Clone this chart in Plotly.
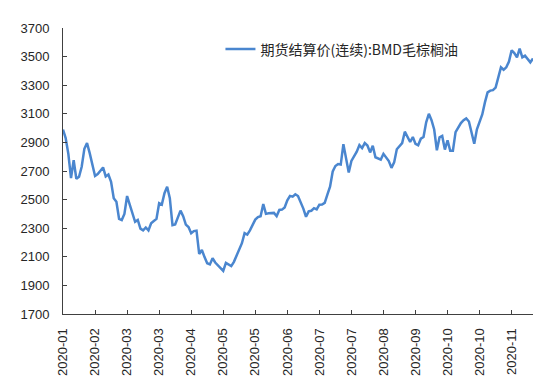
import plotly.graph_objects as go

series_name = "期货结算价(连续):BMD毛棕榈油"

tick_labels = ["2020-01", "2020-02", "2020-03", "2020-03", "2020-04", "2020-05", "2020-05",
               "2020-06", "2020-07", "2020-07", "2020-08", "2020-09", "2020-10", "2020-10", "2020-11"]
label_step = 12

prices = [
    2990, 2930, 2820, 2650, 2775, 2645, 2660, 2730, 2855, 2895,
    2825, 2745, 2665, 2678, 2700, 2725, 2662, 2675, 2625, 2510,
    2485, 2365, 2357, 2400, 2525, 2470, 2400, 2345, 2358, 2297,
    2285, 2305, 2285, 2335, 2350, 2365, 2475, 2465, 2545, 2590,
    2510, 2322, 2327, 2380, 2423, 2384, 2325, 2308, 2265, 2280,
    2283, 2120, 2148, 2098, 2055, 2047, 2090, 2060, 2040, 2018,
    2002, 2057, 2045, 2035, 2065, 2108, 2150, 2195, 2265, 2255,
    2285, 2320, 2360, 2378, 2383, 2469, 2400, 2404, 2407, 2407,
    2384, 2428, 2430, 2445, 2495, 2526, 2521, 2537, 2525, 2482,
    2437, 2380, 2418, 2422, 2440, 2431, 2464, 2465, 2477, 2535,
    2590, 2697, 2735, 2749, 2745, 2888, 2795, 2689, 2770, 2800,
    2835, 2881, 2860, 2895, 2878, 2830, 2876, 2796, 2790, 2780,
    2820, 2796, 2770, 2722, 2760, 2852, 2871, 2895, 2975, 2935,
    2903, 2938, 2890, 2880, 2926, 2938, 3040, 3100, 3055, 2990,
    2845, 2935, 2945, 2850, 2915, 2842, 2842, 2972, 3005, 3035,
    3055, 3068, 3046, 2965, 2890, 2991, 3050, 3095, 3180, 3250,
    3262, 3265, 3283, 3365, 3425, 3408, 3425, 3465, 3544, 3525,
    3495, 3555, 3495, 3507, 3480, 3460, 3487,
]

x_index = list(range(len(prices)))
tick_vals = [i * label_step for i in range(len(tick_labels))]

fig = go.Figure()
fig.add_trace(go.Scatter(
    x=x_index, y=prices, mode="lines", name=series_name,
    line=dict(color="#4A86CF", width=2.5),
))

fig.update_layout(
    width=550, height=380,
    margin=dict(l=52, r=25, t=20, b=69),
    paper_bgcolor="white", plot_bgcolor="white",
    font=dict(family="Liberation Sans, Arial, sans-serif", size=13, color="#262626"),
    showlegend=True,
    legend=dict(
        x=0.335, y=0.925, xanchor="left", yanchor="middle",
        font=dict(family="Noto Sans CJK SC, sans-serif", size=14, color="#262626"),
        bgcolor="rgba(0,0,0,0)",
    ),
)
fig.update_xaxes(
    range=[0, len(prices) - 1],
    tickmode="array", tickvals=tick_vals, ticktext=tick_labels,
    tickangle=-90, ticks="inside", ticklen=4, tickcolor="#404040",
    showline=True, linecolor="#404040", linewidth=1,
    showgrid=False, zeroline=False, ticklabelstandoff=8,
)
fig.update_yaxes(
    range=[1700, 3700], tickmode="linear", tick0=1700, dtick=200,
    ticks="inside", ticklen=4, tickcolor="#404040",
    showline=True, linecolor="#404040", linewidth=1,
    showgrid=False, zeroline=False, ticklabelstandoff=10,
)

fig.write_html("out.html")
